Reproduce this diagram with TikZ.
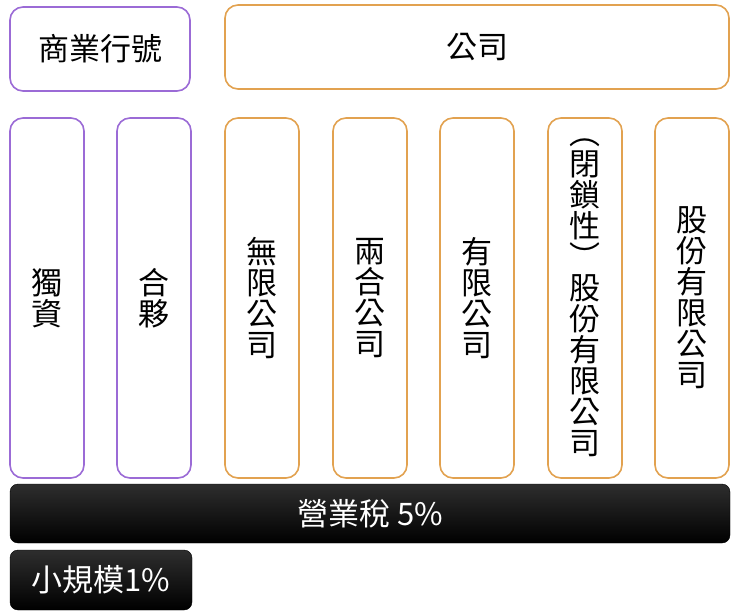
\documentclass[tikz,border=0pt]{standalone}
\usepackage{fontspec}
\newfontfamily\cjk{Noto Sans CJK TC}
\usetikzlibrary{positioning}
\definecolor{shoppurple}{RGB}{155,107,214}
\definecolor{firmorange}{RGB}{226,162,80}
\tikzset{
  box/.style={rectangle, rounded corners=13pt, line width=1.6pt, fill=white, inner sep=0pt, align=center, font=\cjk\fontsize{31}{31}\selectfont},
  purplebox/.style={box, draw=shoppurple},
  orangebox/.style={box, draw=firmorange},
  taxbox/.style={rectangle, rounded corners=8pt, top color=black!82, bottom color=black, draw=black, inner sep=0pt, text=white, font=\cjk\fontsize{31}{31}\selectfont}
}

\begin{document}
\begin{tikzpicture}[x=1pt, y=-1pt]
      \useasboundingbox (0,0) rectangle (740,616);
      % Groups
      \node[purplebox, minimum width=180pt, minimum height=84pt] (shop) at (100,49) {商業行號};
      \node[orangebox, minimum width=504pt, minimum height=84pt] (company) at (477,47) {公司};

      % Forms
      \node[purplebox, minimum width=74pt, minimum height=360pt] (sole) at (47,298) {獨\\資};
      \node[purplebox, minimum width=74pt, minimum height=360pt] (partner) at (154,298) {合\\夥};
      \node[orangebox, minimum width=74pt, minimum height=360pt] (unlimited) at (262,298) {無\\限\\公\\司};
      \node[orangebox, minimum width=74pt, minimum height=360pt] (limpart) at (370,298) {兩\\合\\公\\司};
      \node[orangebox, minimum width=74pt, minimum height=360pt] (limited) at (477,298) {有\\限\\公\\司};
      \node[orangebox, minimum width=74pt, minimum height=360pt] (closed) at (585,298) {︵\\閉\\鎖\\性\\︶\\股\\份\\有\\限\\公\\司};
      \node[orangebox, minimum width=74pt, minimum height=360pt] (stock) at (692,298) {股\\份\\有\\限\\公\\司};

      % Taxes
      \node[taxbox, minimum width=720pt, minimum height=59pt] (vat) at (370,513.5) {營業稅 5\%};
      \node[taxbox, minimum width=182pt, minimum height=60pt] (small) at (101,580) {小規模1\%};
  \end{tikzpicture}
\end{document}
